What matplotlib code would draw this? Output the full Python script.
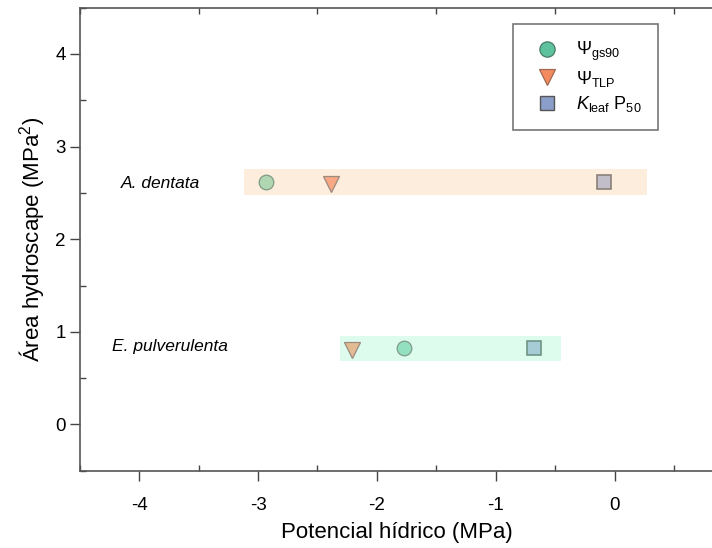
import matplotlib
matplotlib.use("Agg")
import matplotlib.pyplot as plt
from matplotlib.ticker import MultipleLocator
from matplotlib.lines import Line2D

plt.rcParams["font.family"] = ["Liberation Sans", "DejaVu Sans"]
plt.rcParams["axes.unicode_minus"] = False
plt.rcParams["mathtext.fontset"] = "custom"
plt.rcParams["mathtext.rm"] = "Liberation Sans"
plt.rcParams["mathtext.it"] = "Liberation Sans:italic"

# ---------------------------------------------------------------------------
# Datos
# ---------------------------------------------------------------------------
especies = ["A. dentata", "E. pulverulenta"]
area_hydroscape = [2.62, 0.82]          # MPa^2
psi_gs90 = [-2.93, -1.77]               # MPa
psi_tlp = [-2.39, -2.21]
kleaf_p50 = [-0.09, -0.68]
banda_min = [-3.12, -2.31]
banda_max = [0.27, -0.45]
banda_alto = 0.28

col_banda = ["#fdeddc", "#defcee"]
col_circ = ["#b0d6b2", "#93e0c1"]
col_tri = ["#f8a882", "#e2bb92"]
col_cuad = ["#c1bdc9", "#a6ccd6"]

fig = plt.figure(figsize=(7.12, 5.48), dpi=100)
ax = fig.add_axes([0.1117, 0.141, 0.8907, 0.845])

for i in range(len(especies)):
    y = area_hydroscape[i]
    ax.fill_between([banda_min[i], banda_max[i]], y - banda_alto / 2, y + banda_alto / 2,
                    color=col_banda[i], linewidth=0, zorder=1)
    ax.plot(psi_gs90[i], y, "o", ms=10.5, mfc=col_circ[i], mec="#7f9a85", mew=0.9, zorder=3)
    ax.plot(psi_tlp[i], y - 0.02, "v", ms=11, mfc=col_tri[i], mec="#9a8a80", mew=0.9, zorder=3)
    ax.plot(kleaf_p50[i], y, "s", ms=10, mfc=col_cuad[i], mec="#8a8078" if i == 0 else "#6f9486",
            mew=1.2, zorder=3)

ax.text(-3.82, area_hydroscape[0] - 0.02, especies[0], style="italic", fontsize=12.5,
        ha="center", va="center")
ax.text(-3.74, area_hydroscape[1] + 0.02, especies[1], style="italic", fontsize=12.5,
        ha="center", va="center")

ax.set_xlim(-4.5, 0.83)
ax.set_ylim(-0.5, 4.5)
ax.xaxis.set_major_locator(MultipleLocator(1))
ax.xaxis.set_minor_locator(MultipleLocator(0.5))
ax.yaxis.set_major_locator(MultipleLocator(1))
ax.yaxis.set_minor_locator(MultipleLocator(0.5))
ax.tick_params(which="major", direction="out", length=7, width=1, color="#444444",
               labelsize=13.5, pad=12)
ax.tick_params(which="minor", direction="in", length=4, width=1, color="#444444",
               top=True)
ax.tick_params(axis="y", which="major", pad=3)
for s in ax.spines.values():
    s.set_color("#555555")
    s.set_linewidth(1.2)
ax.spines["right"].set_visible(False)

ax.set_xlabel("Potencial hídrico (MPa)", fontsize=16, labelpad=6)
ax.set_ylabel("Área hydroscape (MPa$^2$)", fontsize=16, labelpad=6)

handles = [
    Line2D([], [], marker="o", ls="", ms=11, mfc="#5fc29e", mec="#4a7a66", mew=0.9),
    Line2D([], [], marker="v", ls="", ms=11, mfc="#f48a60", mec="#a06a50", mew=0.9),
    Line2D([], [], marker="s", ls="", ms=10, mfc="#8b9dc9", mec="#555555", mew=1.0),
]
etiquetas = [r"$\Psi_{\mathrm{gs90}}$", r"$\Psi_{\mathrm{TLP}}$",
             r"$K_{\mathrm{leaf}}\ \mathrm{P}_{50}$"]
leg = ax.legend(handles, etiquetas, loc="upper left", bbox_to_anchor=(0.683, 0.965),
                fontsize=13, frameon=True, fancybox=False, edgecolor="#555555",
                borderpad=0.9, labelspacing=0.3, handletextpad=0.6, borderaxespad=0)
leg.get_frame().set_linewidth(1.2)

fig.savefig("out.png", dpi=100)
